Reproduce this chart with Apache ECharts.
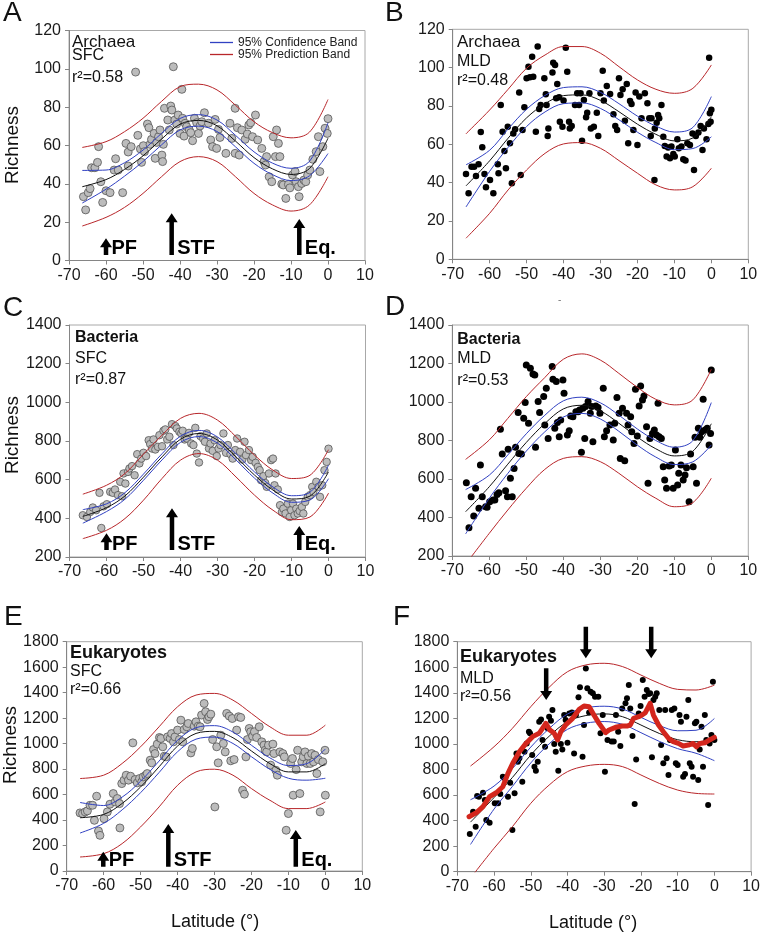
<!DOCTYPE html>
<html><head><meta charset="utf-8">
<script src="https://cdn.jsdelivr.net/npm/echarts@6/dist/echarts.min.js"></script>
<style>html,body{margin:0;padding:0;background:#fff}#c{width:763px;height:935px}</style>
</head><body><div id="c"></div>
<script>
// ---------- DATA ----------
const latGrid = [-66.4, -60, -55, -50, -45, -40, -35, -30, -25, -20, -15, -10, -5, 0];
const xTicks = [-70, 10, 10];

// Panel A: Archaea SFC
const aFit  = [38.5, 42.2, 47.5, 54.6, 63.3, 71.1, 73.1, 70.3, 62.3, 53.7, 47.8, 44.9, 48, 63.8];
const aCiUp = [47, 47.2, 51, 57.6, 66.3, 74.1, 76.1, 73.3, 65.3, 56.7, 50.8, 48.1, 51.8, 71.8];
const aCiLo = [30, 37.2, 44, 51.6, 60.3, 68.1, 70.1, 67.3, 59.3, 50.7, 44.8, 41.7, 44.2, 55.8];
const aPiUp = [59, 62, 67.2, 74.2, 83, 90.7, 92, 89, 81, 72.4, 66.7, 64, 67, 84];
const aPiLo = [18, 22.5, 27.7, 35, 43.7, 51.6, 54.2, 51.6, 43.7, 35, 29, 25.8, 29, 43.7];
const aPts = [[-66.1,33.3],[-65.5,26.4],[-64.8,35.4],[-64.3,37.5],[-63.9,48.4],[-63,48.4],[-62.3,51.2],[-62,59.4],[-61.4,41.1],[-60.9,30.3],[-60,36.4],[-58.9,35.4],[-57.8,47.2],[-57.4,53.1],[-56.7,47.2],[-55.5,35.4],[-54.6,61.1],[-54,56.6],[-54,49.3],[-53.2,59.4],[-52,98.3],[-51.4,65.3],[-50.7,58.2],[-49.9,59.9],[-50.4,51.2],[-49.6,56.8],[-48.8,71.2],[-48.4,69.3],[-48.1,60.6],[-47.7,63.2],[-47,66.3],[-46.7,53.3],[-46.3,61.6],[-45.8,64.6],[-45.4,68.1],[-44.9,55],[-44.7,51.6],[-44.5,60.6],[-44.2,79.4],[-43.3,73.3],[-42.9,68.1],[-42.5,80.6],[-42.2,78.5],[-41.8,101.1],[-41.4,73.3],[-40.9,71.2],[-40.5,75.9],[-40,66.3],[-39.5,89.3],[-39.3,74.2],[-38.9,64.9],[-38.6,71.6],[-38.2,69.8],[-37.5,68.1],[-37.1,66.7],[-36.6,62.5],[-36.1,74.2],[-35.5,71.9],[-35,66.3],[-34.6,70.2],[-34.1,72.4],[-33.4,77.1],[-32.3,71.6],[-31.7,62.9],[-31.2,59.4],[-30.5,73.6],[-30.1,58.5],[-29.6,68.4],[-29.2,64.2],[-27.6,55.9],[-26.5,71.6],[-26,63.7],[-25.1,79.4],[-25.1,55.9],[-24.5,69.3],[-24,55],[-23.3,68.1],[-22.4,63.2],[-21.8,66],[-21.4,70.7],[-20.9,71.9],[-20.4,64.6],[-19.6,75.9],[-19,62.9],[-17.9,58.5],[-17.3,51.6],[-16.9,49.8],[-16.6,54.2],[-15.9,43.7],[-15.2,41.1],[-14.8,64.6],[-14.2,54.2],[-13.9,68.1],[-13.4,61.1],[-13,54.2],[-12.5,39.9],[-12.1,39.4],[-11.4,32.4],[-10.7,39.7],[-10.3,37.9],[-9.6,44.6],[-8.9,46.4],[-8.6,41.1],[-7.8,33.3],[-8,38.5],[-7.1,40.2],[-6.5,42],[-6,41.1],[-5.5,44.6],[-4.9,47.2],[-4.1,52.8],[-3.2,56.8],[-2.6,64.6],[-2.2,46.4],[-1.4,59.4],[-0.8,69],[-0.2,66.3],[0,74]];
const aArrows = [[-60, 2.9, 11.6], [-42.25, 2.9, 24.6], [-7.76, 2.9, 21.7]];
const frontLabels = ['PF', 'STF', 'Eq.'];

// Panel B: Archaea MLD
const bFit  = [38.3, 51.4, 63.2, 73.8, 81.2, 85.4, 85.8, 82.9, 77, 70.5, 65.2, 61.8, 63.3, 74.4];
const bCiUp = [49.3, 56.9, 68, 78.3, 85.5, 89.6, 90, 87.1, 81.2, 74.7, 69.5, 66.4, 68.8, 84.9];
const bCiLo = [27.3, 45.9, 58.4, 69.3, 76.9, 81.2, 81.6, 78.7, 72.8, 66.3, 60.9, 57.2, 57.8, 63.9];
const bPiUp = [65.5, 77.9, 88.7, 99.7, 106.6, 111, 111, 107.5, 100.5, 93.6, 88.7, 86.6, 89.2, 101.4];
const bPiLo = [11, 24, 36.2, 46.6, 55.3, 60.2, 60.9, 57.9, 51.5, 44.9, 38.8, 36.2, 37.9, 47.5];
const bPts = [[-66.4,44.5],[-65.7,34.4],[-64.9,48.3],[-64.2,48.3],[-63.7,43.5],[-63,49.6],[-62.4,66.4],[-62,58.4],[-61.4,44.5],[-61,37.6],[-59.9,41.4],[-59,34.4],[-57.8,49.6],[-57.6,44.9],[-57,80.5],[-56.5,66.6],[-56,56.5],[-55.6,47.5],[-55.1,69.2],[-54.5,60.5],[-54,39.7],[-53.6,65.7],[-53.1,67.8],[-52,87],[-51.6,44],[-51.1,67.5],[-50.6,79.3],[-50,94.4],[-49.5,100.5],[-49.1,95],[-48.5,105.7],[-48.2,95.3],[-47.5,66.6],[-47,111],[-46.6,78.4],[-46.2,80.5],[-45.2,94.4],[-44.8,86.1],[-44.3,64.3],[-44.1,68.3],[-44.6,80.5],[-43,97.4],[-42.8,102.6],[-42.3,101.4],[-42,84],[-41.7,91.5],[-41.2,84.5],[-41,71.8],[-40.3,69.2],[-40,82.8],[-39.4,110.4],[-39,97.9],[-38.5,71.8],[-38.3,68.3],[-37.8,69.6],[-36.9,80.5],[-36.3,86.6],[-35.8,80.5],[-35.4,86.6],[-35,61.9],[-34.5,83.1],[-33.9,74.1],[-33.6,76.5],[-33,86.6],[-32.6,68.3],[-31.8,69.2],[-31,76.5],[-30.6,64.3],[-30,86.6],[-29.4,98.4],[-29.1,82.8],[-28.3,90.4],[-27.4,86.3],[-26.5,75.7],[-26,69.6],[-25.5,67.5],[-25,94.4],[-24.6,85.7],[-24,88.7],[-23.4,72.3],[-22.9,91.5],[-22.5,60.5],[-22,82.6],[-21.6,81],[-21.1,67.5],[-20.5,87],[-20,59.7],[-19.5,84.9],[-18.9,73.6],[-18,86.6],[-17.3,81.4],[-16.8,73.6],[-16.4,64.3],[-16.2,73.6],[-15.4,41.4],[-15.3,68.3],[-14.8,71.3],[-14.4,75.3],[-14.1,73.6],[-13.5,80.5],[-13,64],[-12.6,59.1],[-12.1,53.6],[-11.7,58.3],[-11.2,52.7],[-10.8,58.8],[-10.3,55],[-9.9,53.6],[-9.2,62.6],[-8.8,57.9],[-8.1,58.8],[-7.6,52.2],[-7,51.5],[-6.5,60.5],[-5.8,59.7],[-5.1,65.7],[-4.7,46.6],[-4.2,64.3],[-3.5,66.1],[-2.9,69.6],[-2.4,57],[-2,68.3],[-1.3,62.6],[-0.8,70.6],[-0.6,105.2],[-0.4,76.2],[-0.2,71.8],[0,78]];

// Panel C: Bacteria SFC
const cFit  = [410, 455, 516, 613, 718, 809, 839, 805, 718, 624, 546, 500, 515, 640];
const cCiUp = [445, 475, 533, 629, 734, 825, 855, 821, 734, 640, 562, 517, 535, 675];
const cCiLo = [375, 435, 499, 597, 702, 793, 823, 789, 702, 608, 530, 483, 495, 605];
const cPiUp = [525, 571, 632, 732, 830, 917, 943, 908, 822, 727, 649, 606, 623, 755];
const cPiLo = [295, 338, 399, 494, 606, 701, 735, 701, 614, 520, 442, 393, 407, 530];
const cPts = [[-66.4,416],[-65.3,407],[-64.4,433],[-63.7,456],[-62.8,442],[-61.9,532],[-61.4,350],[-60.8,462],[-59.9,473],[-59,537],[-58.3,532],[-57.7,549],[-56.9,520],[-56.3,589],[-55.8,514],[-55.4,632],[-54.9,580],[-54.2,640],[-53.8,658],[-53.1,670],[-52.4,623],[-51.7,732],[-51.1,684],[-50.6,709],[-50,739],[-49.3,722],[-48.6,804],[-48.2,784],[-47.7,761],[-47.3,808],[-46.8,756],[-46.1,770],[-45.7,830],[-45,773],[-44.6,853],[-44.1,860],[-43.6,808],[-43,822],[-42.3,887],[-41.9,779],[-41.4,877],[-41,865],[-40.3,848],[-39.8,839],[-39.4,853],[-38.9,808],[-38.3,813],[-37.7,842],[-37.1,787],[-36.5,779],[-36,868],[-35.6,735],[-35,689],[-34.6,825],[-33.9,813],[-33.4,796],[-32.9,839],[-32.3,761],[-31.9,787],[-31.3,749],[-30.8,804],[-30.2,722],[-29.7,761],[-29.2,779],[-28.4,839],[-27.7,739],[-27.2,779],[-26.5,732],[-25.9,709],[-25.2,753],[-24.7,813],[-23.9,744],[-23.3,704],[-22.7,796],[-22.3,727],[-21.5,753],[-20.9,701],[-20.5,718],[-19.7,687],[-19.1,666],[-18.6,649],[-18.2,597],[-17.6,618],[-17.1,583],[-16.7,563],[-16.1,632],[-15.5,701],[-15,709],[-14.6,571],[-14.3,632],[-13.7,549],[-13.1,468],[-12.6,433],[-12.2,450],[-11.6,425],[-11,476],[-10.5,407],[-10.1,442],[-9.6,476],[-9.2,416],[-8.7,450],[-8.3,425],[-7.8,438],[-7.2,459],[-6.8,425],[-6.3,485],[-5.6,511],[-5,520],[-4.4,563],[-4.1,537],[-3.3,589],[-2.7,563],[-2.3,511],[-1.7,571],[-1.1,649],[-0.5,692],[0,760]];
const cArrows = [[-60, 236, 323], [-42.3, 236, 452], [-7.9, 236, 360]];

// Panel D: Bacteria MLD
const dFit  = [430, 560, 677, 790, 888, 964, 983, 954, 890, 818, 757, 720, 744, 887];
const dCiUp = [545, 620, 725, 835, 931, 1006, 1025, 996, 932, 860, 800, 765, 799, 997];
const dCiLo = [315, 500, 629, 745, 845, 922, 941, 912, 848, 776, 714, 675, 689, 777];
const dPiUp = [702, 803, 915, 1028, 1127, 1222, 1250, 1218, 1149, 1076, 1014, 985, 1011, 1170];
const dPiLo = [157, 318, 439, 552, 650, 707, 716, 690, 630, 560, 500, 456, 477, 604];
const dPts = [[-66.2,581],[-65.5,347],[-64.9,508],[-64.2,408],[-63.7,552],[-62.8,448],[-62.4,673],[-61.9,508],[-61,456],[-60.6,453],[-59.9,482],[-59,491],[-58.5,491],[-57.9,520],[-57.4,529],[-57,858],[-56.5,730],[-55.6,539],[-55.1,508],[-54.9,754],[-54.3,604],[-53.8,508],[-53.3,655],[-52.9,765],[-52.2,945],[-52,733],[-51.3,730],[-50.7,915],[-50.3,997],[-50,1192],[-49.4,889],[-48.9,1175],[-48.2,1146],[-47.7,1140],[-47.5,765],[-46.8,1002],[-46.4,945],[-45.3,1028],[-45,881],[-44.6,1071],[-44.1,811],[-43,1184],[-42.8,1118],[-42.3,863],[-41.9,1106],[-41.6,893],[-41.1,820],[-40.7,907],[-40.1,1114],[-39.8,1045],[-38.9,829],[-38.4,851],[-38,927],[-37.4,924],[-36.6,950],[-36,950],[-35.6,959],[-35.1,739],[-34.7,967],[-34.2,811],[-34,976],[-33.3,1002],[-32.7,941],[-32.3,976],[-32,794],[-31.2,979],[-30.6,972],[-30.1,941],[-29.2,1071],[-28.9,820],[-28.3,851],[-27.4,881],[-26.5,803],[-26.1,889],[-25.5,1024],[-24.9,941],[-24.6,707],[-24,967],[-23.4,695],[-22.9,941],[-22.5,881],[-21.8,924],[-21.5,846],[-20.9,785],[-20.5,1066],[-20,824],[-19.5,979],[-19.1,1083],[-18.6,1011],[-18.2,1031],[-17.5,872],[-17.1,578],[-16.6,811],[-15.9,837],[-15.4,855],[-14.8,829],[-14.4,993],[-14.1,820],[-13.5,811],[-13,664],[-12.6,595],[-12.1,552],[-11.4,668],[-10.8,673],[-10.3,552],[-9.7,751],[-9.1,569],[-8.8,630],[-8.2,673],[-7.6,595],[-7.1,621],[-6.7,659],[-6,482],[-5.6,730],[-4.9,664],[-4.4,817],[-4,578],[-3.5,863],[-3.1,817],[-2.6,846],[-2.2,1014],[-1.7,855],[-1.1,863],[-0.6,777],[-0.2,837],[0,1166]];

// Panel E: Eukaryotes SFC
const eFit  = [418, 444, 530, 660, 818, 981, 1080, 1096, 1046, 942, 843, 778, 778, 843];
const eCiUp = [538, 514, 580, 705, 863, 1026, 1125, 1141, 1091, 987, 888, 828, 843, 958];
const eCiLo = [298, 374, 480, 615, 773, 936, 1035, 1051, 1001, 897, 798, 728, 713, 728];
const ePiUp = [726, 752, 844, 975, 1132, 1289, 1381, 1394, 1341, 1237, 1132, 1066, 1066, 1145];
const ePiLo = [110, 136, 215, 346, 503, 673, 778, 799, 752, 647, 555, 490, 490, 542];
const ePts = [[-66.4,456],[-65.7,451],[-65,464],[-64.4,472],[-63.7,516],[-63,516],[-62.5,398],[-61.9,587],[-61.4,314],[-61,280],[-59.9,411],[-59,464],[-58.3,524],[-57.4,608],[-56.9,542],[-56.3,569],[-55.7,529],[-55.6,338],[-55.1,686],[-54.5,713],[-53.9,752],[-53.3,713],[-52.7,744],[-52.1,1006],[-51.5,718],[-50.9,692],[-50.3,726],[-49.7,700],[-49.3,739],[-48.6,752],[-48.2,765],[-47.4,870],[-47,849],[-46.5,954],[-46.1,922],[-45.5,996],[-44.9,1048],[-44.5,1040],[-44,975],[-43.6,901],[-43.1,896],[-42.7,1053],[-42,1040],[-41.6,1079],[-41.1,1014],[-40.7,1053],[-40,1106],[-39.5,1032],[-39.1,1184],[-38.6,1014],[-38.2,1111],[-37.5,1132],[-37.1,1158],[-36.4,927],[-36,962],[-35.5,1137],[-35,1171],[-34.4,1137],[-33.9,1132],[-33.5,1224],[-32.8,1315],[-32.4,1250],[-31.9,1189],[-31.5,1211],[-31,1231],[-30.5,1032],[-29.9,503],[-29.4,975],[-29,849],[-28.3,1066],[-27.6,1001],[-27.1,935],[-26.7,1237],[-26,1216],[-25.6,865],[-25.2,1197],[-24.7,875],[-24,1106],[-23.5,1211],[-22.9,1205],[-22.4,634],[-21.9,603],[-21.5,896],[-21.1,1032],[-20.6,1119],[-20.2,1093],[-19.7,1058],[-19.2,1093],[-18.6,1048],[-17.9,1132],[-17.2,1014],[-16.6,988],[-16.3,948],[-15.9,935],[-15.4,988],[-14.8,831],[-14.2,996],[-13.9,922],[-13.4,791],[-13,752],[-12.3,935],[-11.5,922],[-11.1,896],[-10.6,320],[-10,451],[-9.4,844],[-8.9,883],[-8.7,595],[-7.9,796],[-7.5,948],[-6.9,608],[-6.4,857],[-6,896],[-5.5,935],[-5,844],[-4.6,901],[-4.1,844],[-3.7,922],[-3.2,857],[-2.8,909],[-2.3,765],[-1.9,875],[-1.4,464],[-0.7,857],[-0.1,948],[0,595]];
const eArrows = [[-60.1, 34, 151], [-42.5, 34, 369], [-8, 34, 322]];

// Panel F: Eukaryotes MLD
const fFit  = [388, 580, 737, 913, 1060, 1174, 1222, 1235, 1213, 1148, 1082, 1033, 1017, 1034];
const fCiUp = [563, 670, 807, 975, 1120, 1234, 1282, 1295, 1273, 1208, 1144, 1103, 1107, 1199];
const fCiLo = [213, 490, 667, 851, 1000, 1114, 1162, 1175, 1153, 1088, 1020, 963, 927, 869];
const fPiUp = [827, 978, 1122, 1291, 1443, 1565, 1618, 1631, 1605, 1539, 1474, 1427, 1422, 1460];
const fPiLo = [-50, 183, 352, 535, 678, 783, 827, 840, 822, 757, 691, 639, 613, 608];
const fMovLat = [-66.8, -64.8, -63, -61.2, -59.4, -57.6, -56.2, -54.9, -53.1, -51.3, -49.5, -47.7, -45.9, -44.8, -43.6, -42.7, -41.8, -40.5, -38.6, -36.8, -35.5, -34.1, -32.8, -31.4, -29.6, -28.7, -26.9, -25.1, -23.8, -22.9, -22, -20.6, -19.7, -18.8, -17.5, -16.6, -15.2, -13.9, -12.5, -11.2, -9.8, -8.5, -7.1, -5.8, -4.9, -4, -2.6, -1.3, 0];
const fMovVal = [430, 462, 509, 587, 618, 665, 770, 848, 939, 1004, 1057, 1083, 1161, 1109, 1083, 1031, 1096, 1148, 1200, 1271, 1297, 1291, 1226, 1161, 1088, 1109, 1130, 1140, 1140, 1148, 1200, 1213, 1226, 1244, 1318, 1226, 1148, 1096, 1044, 1018, 1004, 984, 991, 1004, 978, 1004, 1009, 1031, 1051];
const fPts = [[-66.6,295],[-65.7,470],[-65,352],[-64.6,592],[-64.1,587],[-63,618],[-62.5,561],[-62.1,404],[-61.2,384],[-59.8,535],[-58.9,535],[-58.3,608],[-57.6,744],[-57.1,731],[-56.2,587],[-55.6,697],[-55,326],[-54.4,613],[-53.9,926],[-53.5,861],[-53.1,887],[-52.3,704],[-51.7,939],[-51.1,1004],[-50.5,1096],[-50.2,1083],[-49.6,913],[-49,822],[-48.6,791],[-48.1,861],[-47.7,1174],[-47.2,1192],[-46.8,1031],[-46.1,978],[-45.4,1122],[-45,1213],[-44.5,1182],[-44.1,1265],[-43.6,999],[-43.2,939],[-42.5,791],[-41.8,999],[-41.4,957],[-40.9,1226],[-40.5,1187],[-40,1010],[-39.5,1239],[-38.8,1245],[-38.2,926],[-37.7,1226],[-37,1365],[-36.6,1443],[-35.9,900],[-35.5,1148],[-35,1591],[-34.6,1435],[-34.1,1245],[-33.7,1409],[-33.1,1396],[-32.5,1370],[-31.6,1370],[-31,1083],[-30.4,1226],[-29.8,783],[-29.1,1031],[-28,1018],[-27.4,1018],[-26.8,1226],[-26.2,1096],[-25.6,984],[-25.1,1278],[-24.2,1318],[-23.8,1357],[-23.3,1461],[-22.9,1278],[-22.3,1062],[-21.7,530],[-21.3,879],[-20.6,1239],[-20.1,1297],[-19.5,1500],[-19,1370],[-18.4,1422],[-17.9,1391],[-17.5,1396],[-17,895],[-16.6,1344],[-16.1,1370],[-15.7,1396],[-15,1265],[-14.5,991],[-13.9,848],[-13.4,1265],[-13,887],[-12.5,757],[-12.1,1031],[-11.6,1265],[-10.9,1278],[-10.5,848],[-10,835],[-9.5,1226],[-9.1,1174],[-8.5,744],[-8,764],[-7.6,1213],[-7.1,1344],[-6.7,848],[-6.2,822],[-5.8,744],[-5.3,1161],[-4.9,1174],[-4.4,717],[-4,957],[-3.5,1135],[-3.1,822],[-2.6,1226],[-2.2,1031],[-1.7,522],[-1.3,1004],[-0.8,1070],[-0.4,1487],[0,1031]];
const fArrows = [[-45.8, 1592, 1344], [-35, 1917, 1670], [-17.2, 1917, 1670]];

// ---------- STYLE / LAYOUT ----------
const FONT = '"Liberation Sans", Arial, sans-serif';
const NARROW = '"Liberation Sans Narrow", "Liberation Sans", Arial, sans-serif';
const BLUE = '#3141c2', RED = '#b8262a', FITC = '#111111';
const GRAYFILL = '#bcbcbc', GRAYEDGE = '#555555';
const ARROW = {shaft: 4.5, headW: 12, headLen: 9};

const panels = [
  {grid:{left:69, top:30.5, width:296, height:230}, y:[0,120,20], fit:aFit, ciU:aCiUp, ciL:aCiLo, piU:aPiUp, piL:aPiLo, pts:aPts, gray:true, size:8, arrows:aArrows, labels:frontLabels},
  {grid:{left:452.7, top:29.3, width:295.6, height:230}, y:[0,120,20], fit:bFit, ciU:bCiUp, ciL:bCiLo, piU:bPiUp, piL:bPiLo, pts:bPts, gray:false, size:6.5},
  {grid:{left:69.5, top:325, width:296, height:232}, y:[200,1400,200], fit:cFit, ciU:cCiUp, ciL:cCiLo, piU:cPiUp, piL:cPiLo, pts:cPts, gray:true, size:7.5, arrows:cArrows, labels:frontLabels},
  {grid:{left:452.3, top:325, width:296, height:231}, y:[200,1400,200], fit:dFit, ciU:dCiUp, ciL:dCiLo, piU:dPiUp, piL:dPiLo, pts:dPts, gray:false, size:7},
  {grid:{left:66.7, top:641.7, width:295.6, height:229.3}, y:[0,1800,200], fit:eFit, ciU:eCiUp, ciL:eCiLo, piU:ePiUp, piL:ePiLo, pts:ePts, gray:true, size:8, arrows:eArrows, labels:frontLabels},
  {grid:{left:457.3, top:641.7, width:296, height:230}, y:[0,1800,200], fit:fFit, ciU:fCiUp, ciL:fCiLo, piU:fPiUp, piL:fPiLo, pts:fPts, gray:false, size:6, arrows:fArrows, labels:null, mov:true}
];

function zip(xs, ys){ return xs.map((x,i)=>[x, ys[i]]); }
const plain = v => String(v);

function arrowRender(labels){
  return function(params, api){
    const x = api.value(0), y0 = api.value(1), y1 = api.value(2);
    const p0 = api.coord([x, y0]), p1 = api.coord([x, y1]);
    const dir = p1[1] < p0[1] ? -1 : 1;
    const neck = p1[1] - dir*ARROW.headLen;
    const cx = p0[0], s = ARROW.shaft/2, h = ARROW.headW/2;
    const children = [{type:'polygon', shape:{points:[[cx-s,p0[1]],[cx+s,p0[1]],[cx+s,neck],[cx+h,neck],[cx,p1[1]],[cx-h,neck],[cx-s,neck]]}, style:{fill:'#000'}}];
    const lab = labels ? labels[params.dataIndex] : null;
    if (lab) children.push({type:'text', style:{text:lab, x:cx+5.5, y:p0[1]+4, font:'bold 20px '+FONT, fill:'#000', align:'left', verticalAlign:'bottom'}});
    return {type:'group', children};
  };
}

const grids=[], xAxes=[], yAxes=[], series=[];
panels.forEach((p,i)=>{
  grids.push(Object.assign({show:true, borderColor:'#a8a8a8', borderWidth:1, backgroundColor:'transparent'}, p.grid));
  const mk = (extra, margin) => Object.assign({
    axisLine:{show:true, onZero:false, lineStyle:{color:'#858585', width:1}},
    axisTick:{show:true, length:4, lineStyle:{color:'#858585'}},
    splitLine:{show:false},
    axisLabel:{fontSize:16, color:'#1a1a1a', fontFamily:FONT, margin, formatter:plain}
  }, extra);
  xAxes.push(mk({gridIndex:i, type:'value', min:xTicks[0], max:xTicks[1], interval:xTicks[2]}, 7));
  yAxes.push(mk({gridIndex:i, type:'value', min:p.y[0], max:p.y[1], interval:p.y[2]}, 8));
  series.push({type:'scatter', xAxisIndex:i, yAxisIndex:i, data:p.pts, symbol:'circle', symbolSize:p.size, z:2, silent:true,
    itemStyle: p.gray ? {color:GRAYFILL, borderColor:GRAYEDGE, borderWidth:0.8, opacity:1} : {color:'#000', opacity:1}});
  const line = (arr, color, name)=>({type:'line', name, xAxisIndex:i, yAxisIndex:i, data:zip(latGrid, arr), smooth:0.35, symbol:'none', showSymbol:false, color, itemStyle:{color}, lineStyle:{color, width:1}, z:3, silent:true, clip:true});
  series.push(line(p.piU, RED, '95% Prediction Band'));
  series.push(line(p.piL, RED, '95% Prediction Band'));
  series.push(line(p.ciU, BLUE, '95% Confidence Band'));
  series.push(line(p.ciL, BLUE, '95% Confidence Band'));
  series.push(line(p.fit, FITC, 'fit'));
  if (p.mov) series.push({type:'line', xAxisIndex:i, yAxisIndex:i, data:zip(fMovLat, fMovVal), symbol:'none', showSymbol:false, lineStyle:{color:'#d3261d', width:5, join:'round', cap:'round'}, z:4, silent:true});
  if (p.arrows) series.push({type:'custom', xAxisIndex:i, yAxisIndex:i, data:p.arrows, renderItem:arrowRender(p.labels), clip:false, z:5, silent:true, encode:{x:0, y:[1,2]}});
});

function T(text, x, y, font, opt){
  opt = opt || {};
  const el = {type:'text', silent:true, style:{text, x, y, font, fill:opt.fill||'#111', align:opt.align||'left', verticalAlign:'middle'}};
  if (opt.rot) { el.rotation = opt.rot; el.x = x; el.y = y; el.style.x = 0; el.style.y = 0; }
  return el;
}
const graphics = [
  T('A', 3, 13, '28px '+FONT), T('B', 385, 13, '28px '+FONT),
  T('C', 3, 308, '28px '+FONT), T('D', 385, 307, '28px '+FONT),
  T('E', 4, 617, '28px '+FONT), T('F', 393, 617, '28px '+FONT),
  T('Archaea', 72, 42, '17px '+FONT), T('SFC', 72, 56, '16px '+NARROW), T('r²=0.58', 72, 78, '16px '+FONT),
  T('Archaea', 457, 42, '17px '+FONT), T('MLD', 457, 61.5, '16px '+NARROW), T('r²=0.48', 457, 81, '16px '+FONT),
  T('Bacteria', 75, 338, 'bold 16px '+FONT), T('SFC', 75, 358.5, '16px '+FONT), T('r²=0.87', 75, 380, '16px '+FONT),
  T('Bacteria', 457.3, 339.7, 'bold 16px '+FONT), T('MLD', 457.3, 359, '16px '+FONT), T('r²=0.53', 457.3, 380.5, '16px '+FONT),
  T('Eukaryotes', 70, 653, 'bold 18px '+FONT), T('SFC', 70, 672, '16px '+NARROW), T('r²=0.66', 70, 690, '16px '+FONT),
  T('Eukaryotes', 460, 657, 'bold 18px '+FONT), T('MLD', 460, 678.5, '16px '+FONT), T('r²=0.56', 460, 697, '16px '+FONT),
  T('Richness', 13, 145, '19px '+FONT, {rot:Math.PI/2, align:'center'}),
  T('Richness', 13, 435, '19px '+FONT, {rot:Math.PI/2, align:'center'}),
  T('Richness', 11, 745, '19px '+FONT, {rot:Math.PI/2, align:'center'}),
  T('Latitude (°)', 215, 922, '18px '+FONT, {align:'center'}),
  T('Latitude (°)', 593, 923, '18px '+FONT, {align:'center'}),
  T('-', 558, 300, '10px '+FONT, {fill:'#777'})
];

const chart = echarts.init(document.getElementById('c'), null, {renderer:'canvas'});
chart.setOption({
  animation:false,
  backgroundColor:'#fff',
  legend:{
    data:[{name:'95% Confidence Band', itemStyle:{color:BLUE}}, {name:'95% Prediction Band', itemStyle:{color:RED}}],
    left:210, top:36.5, orient:'vertical', padding:0, itemGap:0, itemWidth:23, itemHeight:1.3, icon:'rect',
    selectedMode:false, textStyle:{fontSize:12, lineHeight:11, color:'#222', fontFamily:FONT}
  },
  grid:grids, xAxis:xAxes, yAxis:yAxes, series, graphic:graphics
});
</script></body></html>
